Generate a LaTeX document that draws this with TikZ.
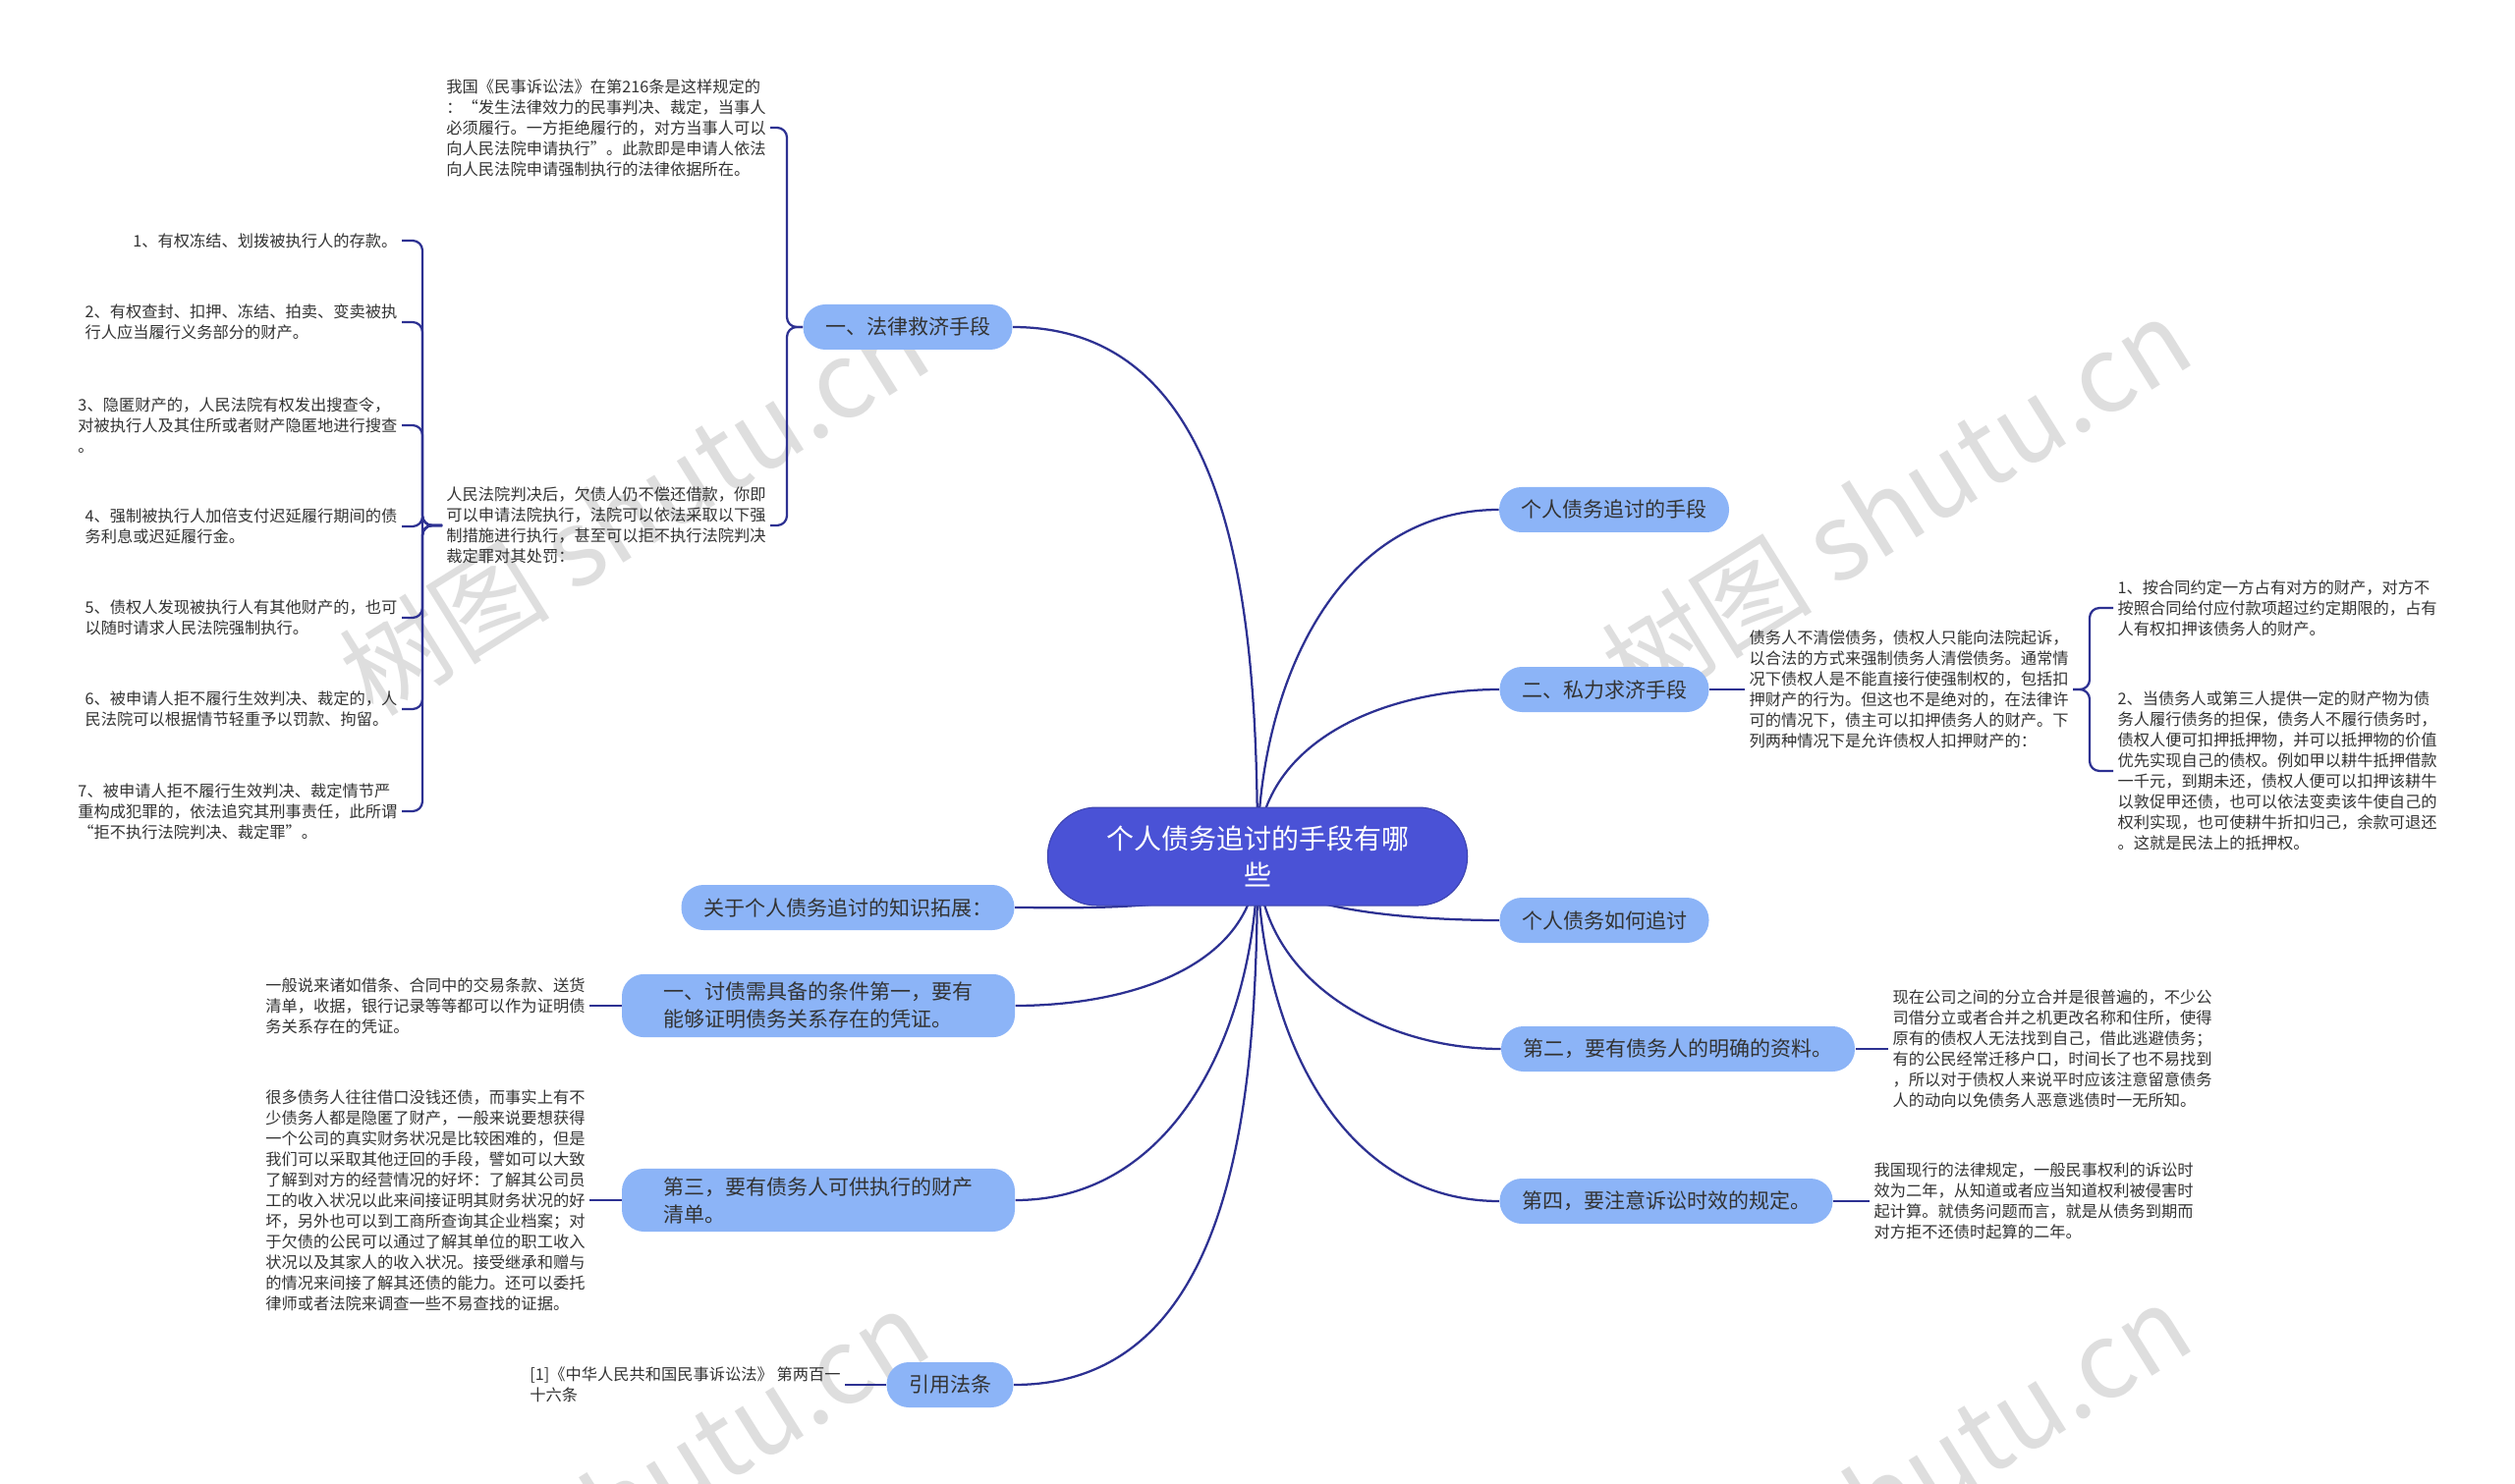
\documentclass[tikz,border=0pt]{standalone}
\usepackage{fontspec}
\setmainfont{Noto Sans CJK SC}
\usetikzlibrary{arrows}
\definecolor{hubblue}{HTML}{4A52D6}
\definecolor{twigblue}{HTML}{8CB4F7}
\definecolor{wire}{HTML}{2D3192}
\definecolor{inkgray}{HTML}{333333}
\pgfdeclarelayer{back}
\pgfsetlayers{back,main}
\begin{document}
\begin{tikzpicture}[x=0.4pt, y=0.4pt,
		hub/.style={fill=hubblue, draw=hubblue!80!black, line width=0.4pt, text=white, align=center,
			minimum width=171pt, minimum height=40pt, rounded corners=20pt, font=\fontsize{11.2}{15}\selectfont},
		twig/.style={fill=twigblue, text=inkgray, rounded corners=9pt, minimum height=18.4pt,
			inner xsep=9pt, font=\fontsize{8.4}{11.2}\selectfont},
		wide/.style={twig, align=left, minimum width=160pt},
		note/.style={text=inkgray, align=left, inner sep=1.6pt, font=\fontsize{6.5}{8.4}\selectfont},
		link/.style={draw=wire, line width=0.9pt},
		brace/.style={link, rounded corners=4pt},
		wmark/.style={text=gray!26, rotate=32, font=\fontsize{43}{43}\selectfont}]
		%Rahmen
		\useasboundingbox (0,0) rectangle (2560,-1511);
		% Wasserzeichen
		\node[wmark] (w1) at (645,-518) {树图 shutu.cn};
		\node[wmark] (w2) at (1930,-512) {树图 shutu.cn};
		\node[wmark] (w3) at (645,-1522) {树图 shutu.cn};
		\node[wmark] (w4) at (1930,-1516) {树图 shutu.cn};
		% Mitte
		\node[hub] (c) at (1280,-872) {个人债务追讨的手段有哪\\些};
		% Aeste
		\node[twig] (b1) at (924,-333) {一、法律救济手段};
		\node[twig] (b2) at (1643,-519) {个人债务追讨的手段};
		\node[twig] (b3) at (1633,-702) {二、私力求济手段};
		\node[twig] (b4) at (1633,-937) {个人债务如何追讨};
		\node[twig] (b5) at (1708,-1068) {第二，要有债务人的明确的资料。};
		\node[twig] (b6) at (1696,-1223) {第四，要注意诉讼时效的规定。};
		\node[twig] (b7) at (863,-924) {关于个人债务追讨的知识拓展：};
		\node[wide] (b8) at (833,-1024) {一、讨债需具备的条件第一，要有\\能够证明债务关系存在的凭证。};
		\node[wide] (b9) at (833,-1222) {第三，要有债务人可供执行的财产\\清单。};
		\node[twig] (b10) at (967,-1410) {引用法条};
		% Texte links oben
		\node[note, anchor=east] (t0) at (784,-130) {我国《民事诉讼法》在第216条是这样规定的\\：“发生法律效力的民事判决、裁定，当事人\\必须履行。一方拒绝履行的，对方当事人可以\\向人民法院申请执行”。此款即是申请人依法\\向人民法院申请强制执行的法律依据所在。};
		\node[note, anchor=east] (tcourt) at (784,-535) {人民法院判决后，欠债人仍不偿还借款，你即\\可以申请法院执行，法院可以依法采取以下强\\制措施进行执行，甚至可以拒不执行法院判决\\裁定罪对其处罚：};
		\node[note, anchor=east] (i1) at (409,-245) {1、有权冻结、划拨被执行人的存款。};
		\node[note, anchor=east] (i2) at (409,-328) {2、有权查封、扣押、冻结、拍卖、变卖被执\\行人应当履行义务部分的财产。};
		\node[note, anchor=east] (i3) at (409,-433) {3、隐匿财产的，人民法院有权发出搜查令，\\对被执行人及其住所或者财产隐匿地进行搜查\\。};
		\node[note, anchor=east] (i4) at (409,-536) {4、强制被执行人加倍支付迟延履行期间的债\\务利息或迟延履行金。};
		\node[note, anchor=east] (i5) at (409,-629) {5、债权人发现被执行人有其他财产的，也可\\以随时请求人民法院强制执行。};
		\node[note, anchor=east] (i6) at (409,-722) {6、被申请人拒不履行生效判决、裁定的，人\\民法院可以根据情节轻重予以罚款、拘留。};
		\node[note, anchor=east] (i7) at (409,-826) {7、被申请人拒不履行生效判决、裁定情节严\\重构成犯罪的，依法追究其刑事责任，此所谓\\“拒不执行法院判决、裁定罪”。};
		% Texte rechts
		\node[note, anchor=west] (tR) at (1776,-702) {债务人不清偿债务，债权人只能向法院起诉，\\以合法的方式来强制债务人清偿债务。通常情\\况下债权人是不能直接行使强制权的，包括扣\\押财产的行为。但这也不是绝对的，在法律许\\可的情况下，债主可以扣押债务人的财产。下\\列两种情况下是允许债权人扣押财产的：};
		\node[note, anchor=west] (r1) at (2151,-619) {1、按合同约定一方占有对方的财产，对方不\\按照合同给付应付款项超过约定期限的，占有\\人有权扣押该债务人的财产。};
		\node[note, anchor=west] (r2) at (2151,-785) {2、当债务人或第三人提供一定的财产物为债\\务人履行债务的担保，债务人不履行债务时，\\债权人便可扣押抵押物，并可以抵押物的价值\\优先实现自己的债权。例如甲以耕牛抵押借款\\一千元，到期未还，债权人便可以扣押该耕牛\\以敦促甲还债，也可以依法变卖该牛使自己的\\权利实现，也可使耕牛折扣归己，余款可退还\\。这就是民法上的抵押权。};
		\node[note, anchor=west] (t5) at (1922,-1068) {现在公司之间的分立合并是很普遍的，不少公\\司借分立或者合并之机更改名称和住所，使得\\原有的债权人无法找到自己，借此逃避债务；\\有的公民经常迁移户口，时间长了也不易找到\\，所以对于债权人来说平时应该注意留意债务\\人的动向以免债务人恶意逃债时一无所知。};
		\node[note, anchor=west] (t6) at (1903,-1223) {我国现行的法律规定，一般民事权利的诉讼时\\效为二年，从知道或者应当知道权利被侵害时\\起计算。就债务问题而言，就是从债务到期而\\对方拒不还债时起算的二年。};
		% Texte links unten
		\node[note, anchor=east] (t8) at (600,-1024) {一般说来诸如借条、合同中的交易条款、送货\\清单，收据，银行记录等等都可以作为证明债\\务关系存在的凭证。};
		\node[note, anchor=east] (t9) at (600,-1222) {很多债务人往往借口没钱还债，而事实上有不\\少债务人都是隐匿了财产，一般来说要想获得\\一个公司的真实财务状况是比较困难的，但是\\我们可以采取其他迂回的手段，譬如可以大致\\了解到对方的经营情况的好坏：了解其公司员\\工的收入状况以此来间接证明其财务状况的好\\坏，另外也可以到工商所查询其企业档案；对\\于欠债的公民可以通过了解其单位的职工收入\\状况以及其家人的收入状况。接受继承和赠与\\的情况来间接了解其还债的能力。还可以委托\\律师或者法院来调查一些不易查找的证据。};
		\node[note, anchor=east] (t10) at (860,-1410) {[1]《中华人民共和国民事诉讼法》 第两百一\\十六条};
		% Verbindungen
		\begin{pgfonlayer}{back}
			\draw[link] (c.center) to[out=90, in=0] (b1.east);
			\draw[link] (c.center) to[out=90, in=180] (b2.west);
			\draw[link] (c.center) to[out=90, in=180] (b3.west);
			\draw[link] (c.center) to[out=-90, in=180, looseness=0.6] (b4.west);
			\draw[link] (c.center) to[out=-90, in=180] (b5.west);
			\draw[link] (c.center) to[out=-90, in=180] (b6.west);
			\draw[link] (c.center) to[out=-90, in=0, looseness=0.6] (b7.east);
			\draw[link] (c.center) to[out=-90, in=0] (b8.east);
			\draw[link] (c.center) to[out=-90, in=0] (b9.east);
			\draw[link] (c.center) to[out=-90, in=0] (b10.east);
		\end{pgfonlayer}
		\foreach \t in {t0,tcourt} \draw[brace] (b1.west) -- ++(-16,0) |- (\t.east);
		\foreach \i in {1,...,7} \draw[brace] (tcourt.west) -- ++(-20,0) |- (i\i.east);
		\draw[link] (b3.east) -- (tR.west);
		\foreach \r in {r1,r2} \draw[brace] (tR.east) -- ++(17,0) |- (\r.west);
		\draw[link] (b5.east) -- (t5.west);
		\draw[link] (b6.east) -- (t6.west);
		\draw[link] (b8.west) -- (t8.east);
		\draw[link] (b9.west) -- (t9.east);
		\draw[link] (b10.west) -- (t10.east);
\end{tikzpicture}
\end{document}
